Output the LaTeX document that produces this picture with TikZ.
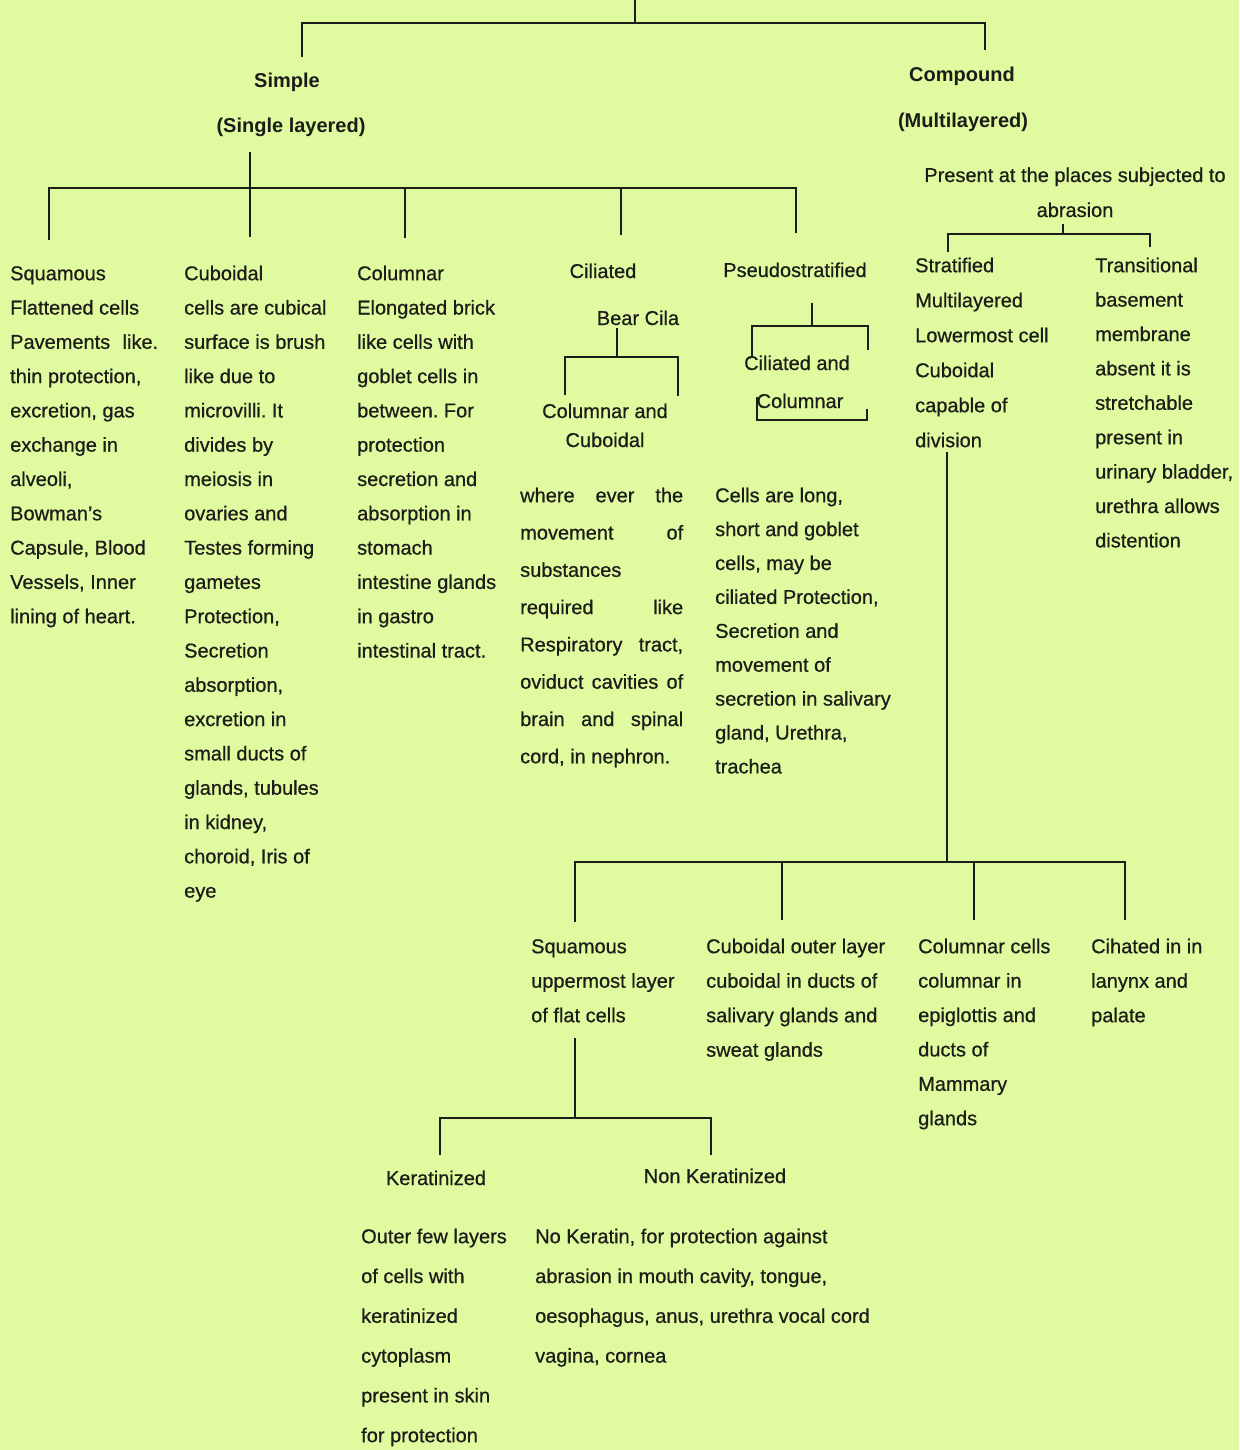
\documentclass[tikz,border=0pt]{standalone}
\usepackage{fontspec}
\setmainfont{Liberation Sans}
\newfontfamily\regfont{Liberation Sans}[FakeBold=0.6]
\definecolor{bg}{RGB}{224,250,160}
\definecolor{ink}{RGB}{28,28,24}
\newcommand\fstrut{\rule{0pt}{16pt}}
\frenchspacing
\begin{document}
\frenchspacing
\begin{tikzpicture}[x=1pt,y=-1pt,
  txt/.style={anchor=base, inner sep=0pt, text=ink, font=\regfont\fontsize{20}{24}\selectfont},
  ttl/.style={anchor=base, inner sep=0pt, text=ink, font=\fontsize{20}{24}\selectfont\bfseries},
  para/.style={anchor=north west, align=left, inner sep=0pt, text=ink, font=\regfont\fontsize{20}{#1}\selectfont},
  link/.style={draw=ink, line width=2.3pt, line join=miter}]
\fill[bg] (0,0) rectangle (1239,1450);
\useasboundingbox (0,0) rectangle (1239,1450);

% ---------- top level ----------
\coordinate (t0) at (635,0);
\coordinate (t1) at (635,23);
\coordinate (tl) at (302,23);
\coordinate (tr) at (985,23);
\coordinate (tld) at (302,57);
\coordinate (trd) at (985,50);
\draw[link] (tld) -- (tl) -- (tr) -- (trd);
\draw[link] (t0) -- (t1);

\node[ttl] (simple) at (287,87.5) {Simple};
\node[ttl] (single) at (291,133) {(Single layered)};
\node[ttl] (compound) at (962,82) {Compound};
\node[ttl] (multi) at (963,128) {(Multilayered)};

% ---------- simple branch ----------
\coordinate (sTop) at (250,152);
\coordinate (sL) at (49,188);
\coordinate (sR) at (796,188);
\coordinate (sb3) at (405,188);
\coordinate (sb4) at (621,188);
\coordinate (d1) at (49,240);
\coordinate (d2) at (250,237);
\coordinate (d3) at (405,238);
\coordinate (d4) at (621,235);
\coordinate (d5) at (796,233);
\draw[link] (d1) -- (sL) -- (sR) -- (d5);
\draw[link] (sTop) -- (d2);
\draw[link] (sb3) -- (d3);
\draw[link] (sb4) -- (d4);

\node[para=34.3] (sq) at (10,264) {\fstrut Squamous\\Flattened cells\\\makebox[148pt][s]{Pavements like.}\\thin protection,\\excretion, gas\\exchange in\\alveoli,\\Bowman’s\\Capsule, Blood\\Vessels, Inner\\lining of heart.};

\node[para=34.3] (cu) at (184,264) {\fstrut Cuboidal\\cells are cubical\\surface is brush\\like due to\\microvilli. It\\divides by\\meiosis in\\ovaries and\\Testes forming\\gametes\\Protection,\\Secretion\\absorption,\\excretion in\\small ducts of\\glands, tubules\\in kidney,\\choroid, Iris of\\eye};

\node[para=34.3] (co) at (357,264) {\fstrut Columnar\\Elongated brick\\like cells with\\goblet cells in\\between. For\\protection\\secretion and\\absorption in\\stomach\\intestine glands\\in gastro\\intestinal tract.};

% ciliated
\node[txt] (cil) at (603,278) {Ciliated};
\node[txt] (bear) at (638,325) {Bear Cila};
\coordinate (bcTop) at (617,328);
\coordinate (bcBus) at (617,357);
\coordinate (cbl) at (565,357);
\coordinate (cbr) at (678,357);
\coordinate (cl) at (565,395);
\coordinate (cr) at (678,396);
\draw[link] (bcTop) -- (bcBus);
\draw[link] (cl) -- (cbl) -- (cbr) -- (cr);
\node[txt] (cuc1) at (605,418) {Columnar and};
\node[txt] (cuc2) at (605,447) {Cuboidal};
\node[para=37.3] (cilp) at (520,486) {\fstrut\makebox[163pt][s]{where ever the}\\\makebox[163pt][s]{movement of}\\substances\\\makebox[163pt][s]{required like}\\\makebox[163pt][s]{Respiratory tract,}\\\makebox[163pt][s]{oviduct cavities of}\\\makebox[163pt][s]{brain and spinal}\\cord, in nephron.};

% pseudostratified
\node[txt] (pseudo) at (795,277) {Pseudostratified};
\coordinate (pTop) at (812,303);
\coordinate (pBus) at (812,326);
\coordinate (pbl) at (752,326);
\coordinate (pbr) at (868,326);
\coordinate (pl) at (752,358);
\coordinate (pr) at (868,350);
\draw[link] (pTop) -- (pBus);
\draw[link] (pl) -- (pbl) -- (pbr) -- (pr);
\node[txt] (pca) at (797,370) {Ciliated and};
\node[txt] (pcol) at (800,408) {Columnar};
\coordinate (k1) at (757,397);
\coordinate (k2) at (757,420);
\coordinate (k3) at (867,420);
\coordinate (k4) at (867,409);
\draw[link] (k1) -- (k2) -- (k3) -- (k4);
\node[para=33.9] (psp) at (715,486) {\fstrut Cells are long,\\short and goblet\\cells, may be\\ciliated Protection,\\Secretion and\\movement of\\secretion in salivary\\gland, Urethra,\\trachea};

% ---------- compound branch ----------
\node[txt] (present) at (1075,182) {Present at the places subjected to};
\node[txt] (abr) at (1075,217) {abrasion};
\coordinate (aTop) at (1063,224);
\coordinate (aBus) at (1063,234);
\coordinate (abl) at (948,234);
\coordinate (abr2) at (1150,234);
\coordinate (al) at (948,252);
\coordinate (ar) at (1150,247);
\draw[link] (aTop) -- (aBus);
\draw[link] (al) -- (abl) -- (abr2) -- (ar);

\node[para=35] (strat) at (915,256) {\fstrut Stratified\\Multilayered\\Lowermost cell\\Cuboidal\\capable of\\division};
\node[para=34.4] (trans) at (1095,256) {\fstrut Transitional\\basement\\membrane\\absent it is\\stretchable\\present in\\urinary bladder,\\urethra allows\\distention};

\coordinate (stTop) at (947,452);
\coordinate (stBus) at (947,862);
\coordinate (bl) at (575,862);
\coordinate (br) at (1125,862);
\coordinate (bb2) at (782,862);
\coordinate (bb3) at (974,862);
\coordinate (e1) at (575,922);
\coordinate (e2) at (782,920);
\coordinate (e3) at (974,920);
\coordinate (e4) at (1125,920);
\draw[link] (stTop) -- (stBus);
\draw[link] (e1) -- (bl) -- (br) -- (e4);
\draw[link] (bb2) -- (e2);
\draw[link] (bb3) -- (e3);

\node[para=34.5] (bsq) at (531,937) {\fstrut Squamous\\uppermost layer\\of flat cells};
\node[para=34.5] (bcu) at (706,937) {\fstrut Cuboidal outer layer\\cuboidal in ducts of\\salivary glands and\\sweat glands};
\node[para=34.4] (bco) at (918,937) {\fstrut Columnar cells\\columnar in\\epiglottis and\\ducts of\\Mammary\\glands};
\node[para=34.5] (bci) at (1091,937) {\fstrut Cihated in in\\lanynx and\\palate};

% keratinized
\coordinate (qTop) at (575,1038);
\coordinate (qBus) at (575,1118);
\coordinate (qbl) at (440,1118);
\coordinate (qbr) at (711,1118);
\coordinate (ql) at (440,1155);
\coordinate (qr) at (711,1155);
\draw[link] (qTop) -- (qBus);
\draw[link] (ql) -- (qbl) -- (qbr) -- (qr);

\node[txt] (ker) at (436,1185) {Keratinized};
\node[txt] (nker) at (715,1183) {Non Keratinized};
\node[para=39.8] (kerp) at (361,1227) {\fstrut Outer few layers\\of cells with\\keratinized\\cytoplasm\\present in skin\\for protection};
\node[para=39.8] (nkerp) at (535,1227) {\fstrut No Keratin, for protection against\\abrasion in mouth cavity, tongue,\\oesophagus, anus, urethra vocal cord\\vagina, cornea};
\end{tikzpicture}
\end{document}
